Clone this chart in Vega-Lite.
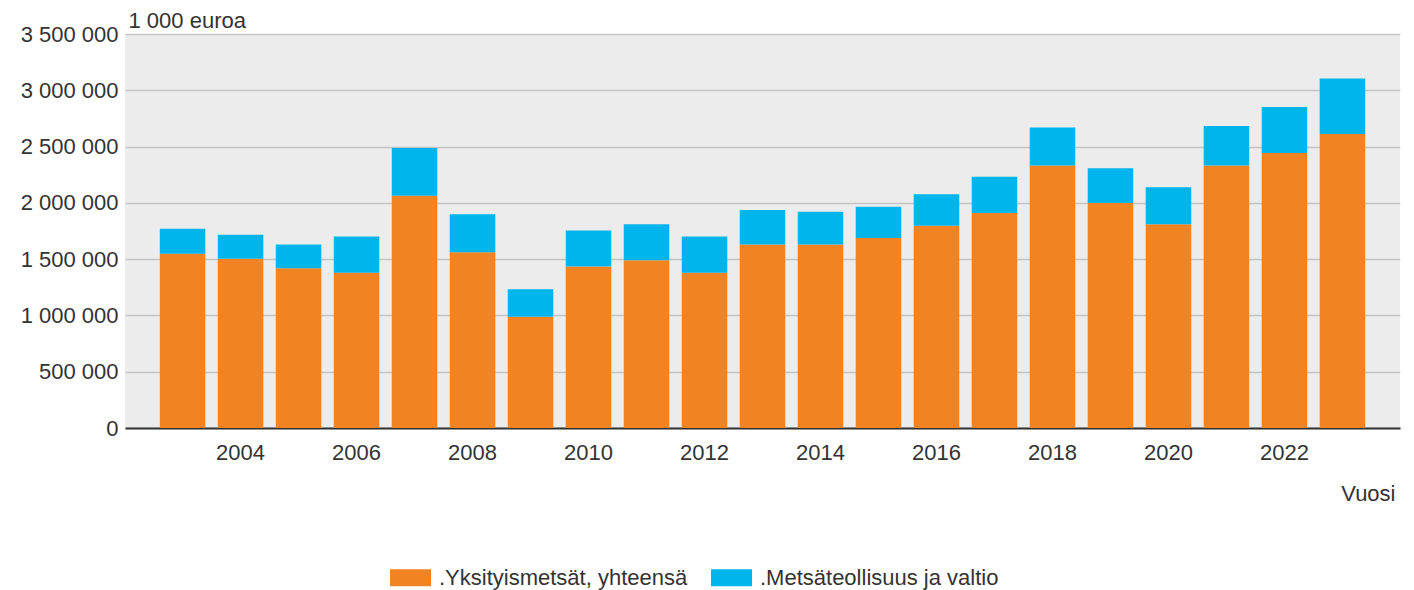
{
  "$schema": "https://vega.github.io/schema/vega-lite/v6.json",
  "width": 1275,
  "height": 394,
  "autosize": {"type": "none"},
  "padding": {"left": 125, "top": 34, "right": 14, "bottom": 162},
  "background": "#ffffff",
  "config": {
    "font": "Liberation Sans",
    "view": {"fill": "#ececec", "stroke": null},
    "axis": {"labelFont": "Liberation Sans", "titleFont": "Liberation Sans", "labelColor": "#333333", "titleColor": "#333333"}
  },
  "data": {
    "values": [
      {"Vuosi": "2003", "Sarja": ".Yksityismetsät, yhteensä", "Arvo": 1548000},
      {"Vuosi": "2003", "Sarja": ".Metsäteollisuus ja valtio", "Arvo": 222000},
      {"Vuosi": "2004", "Sarja": ".Yksityismetsät, yhteensä", "Arvo": 1503000},
      {"Vuosi": "2004", "Sarja": ".Metsäteollisuus ja valtio", "Arvo": 214000},
      {"Vuosi": "2005", "Sarja": ".Yksityismetsät, yhteensä", "Arvo": 1420000},
      {"Vuosi": "2005", "Sarja": ".Metsäteollisuus ja valtio", "Arvo": 211000},
      {"Vuosi": "2006", "Sarja": ".Yksityismetsät, yhteensä", "Arvo": 1379000},
      {"Vuosi": "2006", "Sarja": ".Metsäteollisuus ja valtio", "Arvo": 323000},
      {"Vuosi": "2007", "Sarja": ".Yksityismetsät, yhteensä", "Arvo": 2064000},
      {"Vuosi": "2007", "Sarja": ".Metsäteollisuus ja valtio", "Arvo": 424000},
      {"Vuosi": "2008", "Sarja": ".Yksityismetsät, yhteensä", "Arvo": 1562000},
      {"Vuosi": "2008", "Sarja": ".Metsäteollisuus ja valtio", "Arvo": 336000},
      {"Vuosi": "2009", "Sarja": ".Yksityismetsät, yhteensä", "Arvo": 988000},
      {"Vuosi": "2009", "Sarja": ".Metsäteollisuus ja valtio", "Arvo": 245000},
      {"Vuosi": "2010", "Sarja": ".Yksityismetsät, yhteensä", "Arvo": 1435000},
      {"Vuosi": "2010", "Sarja": ".Metsäteollisuus ja valtio", "Arvo": 320000},
      {"Vuosi": "2011", "Sarja": ".Yksityismetsät, yhteensä", "Arvo": 1491000},
      {"Vuosi": "2011", "Sarja": ".Metsäteollisuus ja valtio", "Arvo": 320000},
      {"Vuosi": "2012", "Sarja": ".Yksityismetsät, yhteensä", "Arvo": 1379000},
      {"Vuosi": "2012", "Sarja": ".Metsäteollisuus ja valtio", "Arvo": 323000},
      {"Vuosi": "2013", "Sarja": ".Yksityismetsät, yhteensä", "Arvo": 1631000},
      {"Vuosi": "2013", "Sarja": ".Metsäteollisuus ja valtio", "Arvo": 305000},
      {"Vuosi": "2014", "Sarja": ".Yksityismetsät, yhteensä", "Arvo": 1631000},
      {"Vuosi": "2014", "Sarja": ".Metsäteollisuus ja valtio", "Arvo": 291000},
      {"Vuosi": "2015", "Sarja": ".Yksityismetsät, yhteensä", "Arvo": 1687000},
      {"Vuosi": "2015", "Sarja": ".Metsäteollisuus ja valtio", "Arvo": 279000},
      {"Vuosi": "2016", "Sarja": ".Yksityismetsät, yhteensä", "Arvo": 1797000},
      {"Vuosi": "2016", "Sarja": ".Metsäteollisuus ja valtio", "Arvo": 279000},
      {"Vuosi": "2017", "Sarja": ".Yksityismetsät, yhteensä", "Arvo": 1909000},
      {"Vuosi": "2017", "Sarja": ".Metsäteollisuus ja valtio", "Arvo": 324000},
      {"Vuosi": "2018", "Sarja": ".Yksityismetsät, yhteensä", "Arvo": 2331000},
      {"Vuosi": "2018", "Sarja": ".Metsäteollisuus ja valtio", "Arvo": 338000},
      {"Vuosi": "2019", "Sarja": ".Yksityismetsät, yhteensä", "Arvo": 1998000},
      {"Vuosi": "2019", "Sarja": ".Metsäteollisuus ja valtio", "Arvo": 309000},
      {"Vuosi": "2020", "Sarja": ".Yksityismetsät, yhteensä", "Arvo": 1811000},
      {"Vuosi": "2020", "Sarja": ".Metsäteollisuus ja valtio", "Arvo": 327000},
      {"Vuosi": "2021", "Sarja": ".Yksityismetsät, yhteensä", "Arvo": 2331000},
      {"Vuosi": "2021", "Sarja": ".Metsäteollisuus ja valtio", "Arvo": 352000},
      {"Vuosi": "2022", "Sarja": ".Yksityismetsät, yhteensä", "Arvo": 2443000},
      {"Vuosi": "2022", "Sarja": ".Metsäteollisuus ja valtio", "Arvo": 409000},
      {"Vuosi": "2023", "Sarja": ".Yksityismetsät, yhteensä", "Arvo": 2612000},
      {"Vuosi": "2023", "Sarja": ".Metsäteollisuus ja valtio", "Arvo": 493000}
    ]
  },
  "mark": {"type": "bar"},
  "encoding": {
    "x": {
      "field": "Vuosi",
      "type": "ordinal",
      "scale": {"paddingInner": 0.215, "paddingOuter": 0.6},
      "axis": {
        "values": ["2004", "2006", "2008", "2010", "2012", "2014", "2016", "2018", "2020", "2022"],
        "labelAngle": 0,
        "labelFontSize": 22,
        "labelPadding": 14,
        "ticks": false,
        "grid": false,
        "domain": true,
        "domainColor": "#333333",
        "domainWidth": 2,
        "title": "Vuosi",
        "titleFontSize": 22,
        "titleFontWeight": "normal",
        "titleAlign": "right",
        "titleAnchor": null,
        "titleX": 1270,
        "titleY": 72,
        "titleBaseline": "alphabetic"
      }
    },
    "y": {
      "field": "Arvo",
      "type": "quantitative",
      "stack": "zero",
      "scale": {"domain": [0, 3500000], "nice": false},
      "axis": {
        "values": [0, 500000, 1000000, 1500000, 2000000, 2500000, 3000000, 3500000],
        "labelExpr": "replace(format(datum.value, ','), regexp(',', 'g'), ' ')",
        "labelFontSize": 22,
        "labelPadding": 7,
        "ticks": false,
        "domain": false,
        "grid": true,
        "gridColor": "#c4c4c4",
        "gridWidth": 1.5,
        "title": "1 000 euroa",
        "titleFontSize": 22,
        "titleFontWeight": "normal",
        "titleAngle": 0,
        "titleAlign": "left",
        "titleAnchor": null,
        "titleX": 3,
        "titleY": -7,
        "titleBaseline": "alphabetic"
      }
    },
    "color": {
      "field": "Sarja",
      "type": "nominal",
      "sort": [".Yksityismetsät, yhteensä", ".Metsäteollisuus ja valtio"],
      "scale": {
        "domain": [".Yksityismetsät, yhteensä", ".Metsäteollisuus ja valtio"],
        "range": ["#f28323", "#00b5eb"]
      },
      "legend": {
        "title": null,
        "orient": "none",
        "direction": "horizontal",
        "legendX": 265,
        "legendY": 523,
        "labelFontSize": 22,
        "labelColor": "#333333",
        "labelFont": "Liberation Sans",
        "labelOffset": 8,
        "labelLimit": 400,
        "columnPadding": 23,
        "symbolType": "M-1,-0.41H1V0.41H-1Z",
        "symbolSize": 1681,
        "symbolStrokeWidth": 0,
        "symbolOpacity": 1
      }
    }
  }
}
